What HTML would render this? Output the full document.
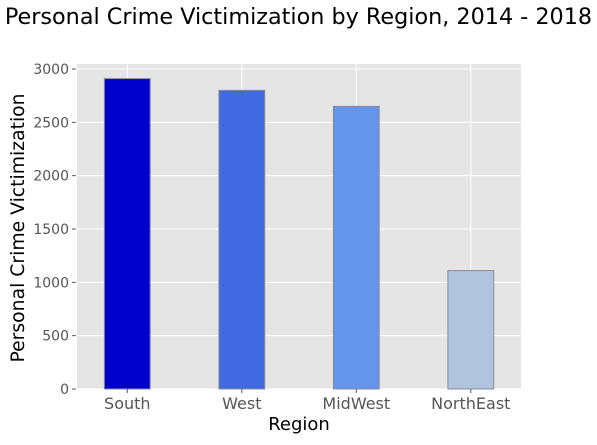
<!DOCTYPE html>
<html><head><meta charset="utf-8"><style>
body{margin:0;background:#fff;}
text{font-family:"DejaVu Sans","Liberation Sans",sans-serif;}
</style></head><body>
<svg id="chart" width="597" height="440" xmlns="http://www.w3.org/2000/svg">
<text x="298.5" y="24" text-anchor="middle" font-size="22.3" fill="#000">Personal Crime Victimization by Region, 2014 - 2018</text>
<rect x="77" y="64" width="444" height="325" fill="#e5e5e5"/>
<g id="grid"></g><g id="bars"></g><g id="ticks"></g>
<text x="299" y="430" text-anchor="middle" font-size="18" fill="#000">Region</text>
<text transform="translate(24,228) rotate(-90)" text-anchor="middle" font-size="18.8" fill="#000">Personal Crime Victimization</text>
</svg>
<script>
const categories=["South","West","MidWest","NorthEast"];
const values=[2910,2800,2650,1110];
const colors=["#0000cd","#4169e1","#6495ed","#b0c4de"];
const yTicks=[0,500,1000,1500,2000,2500,3000];
const NS="http://www.w3.org/2000/svg";
const y=v=>389-v*(320/3000);
const x=i=>127.3+i*114.5;
const bw=45.8;
function mk(t,a,p){const e=document.createElementNS(NS,t);for(const k in a)e.setAttribute(k,a[k]);p.appendChild(e);return e;}
const grid=document.getElementById('grid'),bars=document.getElementById('bars'),ticks=document.getElementById('ticks');
yTicks.forEach(v=>{
  const l=mk('line',{x1:77,x2:521,y1:y(v),y2:y(v),stroke:'#fff','stroke-width':1},grid);
  
  
  mk('line',{x1:72,x2:76,y1:y(v),y2:y(v),stroke:'#555'},ticks);
  const tx=mk('text',{x:69,y:y(v)+5,'text-anchor':'end','font-size':14,fill:'#555'},ticks);
  tx.textContent=v;
  
  
});
categories.forEach((c,i)=>{
  const l=mk('line',{x1:x(i),x2:x(i),y1:64,y2:389,stroke:'#fff','stroke-width':1},grid);
  
  
  const r=mk('rect',{x:x(i)-bw/2,y:y(values[i]),width:bw,height:389-y(values[i]),fill:colors[i],stroke:'#8a8a9a','stroke-width':1},bars);
  
  
  mk('line',{x1:x(i),x2:x(i),y1:389,y2:393,stroke:'#555'},ticks);
  const tx=mk('text',{x:x(i),y:409,'text-anchor':'middle','font-size':16,fill:'#555'},ticks);
  tx.textContent=c;
  
  
});
</script>
</body></html>
